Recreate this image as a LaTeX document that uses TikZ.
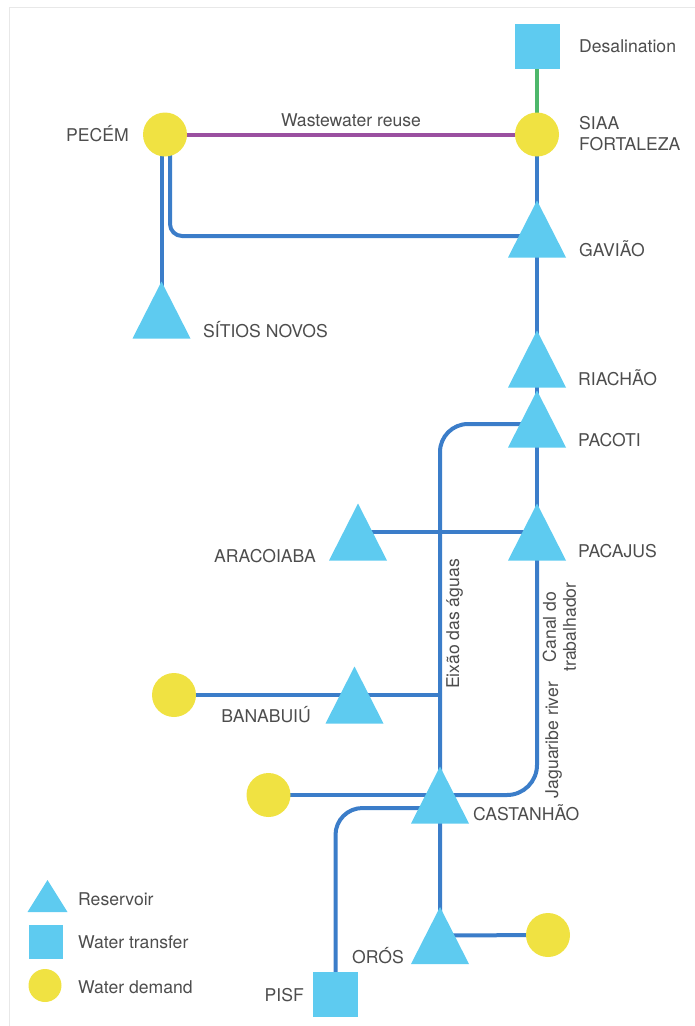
\documentclass[tikz,border=0pt]{standalone}
\usepackage{fontspec}
\setmainfont{TeX Gyre Heros}
\pgfdeclarelayer{bg}
\pgfsetlayers{bg,main}
\definecolor{pipe}{RGB}{59,125,201}
\definecolor{rescol}{RGB}{94,203,240}
\definecolor{demcol}{RGB}{240,226,66}
\definecolor{reuse}{RGB}{154,80,160}
\definecolor{desal}{RGB}{77,183,107}
\definecolor{txt}{RGB}{77,77,77}
\definecolor{framecol}{RGB}{232,232,232}
\begin{document}
\begin{tikzpicture}[x=1pt,y=-1pt,
  reservoir/.style={inner sep=0, minimum width=58pt, minimum height=57pt,
    path picture={\fill[rescol] (path picture bounding box.south west)
      -- (path picture bounding box.south east)
      -- (path picture bounding box.north) -- cycle;}},
  transfer/.style={fill=rescol, inner sep=0, minimum size=45pt},
  demand/.style={circle, fill=demcol, inner sep=0, minimum size=44pt},
  pipeline/.style={draw=pipe, line width=4pt},
  lbl/.style={text=txt, inner sep=0, font=\fontsize{17.6}{21.5}\selectfont},
]
\useasboundingbox (0,0) rectangle (695,1026);
\draw[framecol, line width=1pt] (9,1030) -- (9,7) -- (700,7);

% water transfers
\node[transfer] (desal) at (537,46) {};
\node[transfer] (pisf) at (335.5,994.5) {};

% water demands
\node[demand] (pecem) at (165,134.5) {};
\node[demand] (siaa) at (537,134.5) {};
\node[demand] (dbana) at (174,695) {};
\node[demand] (dcast) at (268.5,795) {};
\node[demand] (doros) at (548,935) {};

% reservoirs
\node[reservoir] (gaviao) at (537,229) {};
\node[reservoir] (sitios) at (161.5,310) {};
\node[reservoir] (riachao) at (537,359) {};
\node[reservoir] (pacoti) at (537,419) {};
\node[reservoir] (pacajus) at (537,532) {};
\node[reservoir] (aracoiaba) at (358,532) {};
\node[reservoir] (banabuiu) at (354.5,695) {};
\node[reservoir] (castanhao) at (440,795) {};
\node[reservoir] (oros) at (440,935.5) {};

% branch points of the pipelines
\coordinate (pecemR) at (170,134.5);
\coordinate (gaviaoW) at (530,236);
\coordinate (pacotiW) at (530,424);
\coordinate (eixaoT) at (440,695);
\coordinate (castS) at (440,808);

\begin{pgfonlayer}{bg}
  \draw[desal, line width=3.5pt] (desal.center) -- (siaa.center);
  \draw[reuse, line width=4pt] (pecem.center) -- (siaa.center);
  \draw[pipeline] (siaa.center) -- (gaviao.center) -- (riachao.center)
    -- (pacoti.center) -- (pacajus.center);
  \draw[pipeline] (sitios.center) -- (sitios.center |- pecem.center);
  \draw[pipeline, rounded corners=12pt] (pecemR) |- (gaviaoW);
  \draw[pipeline, rounded corners=28pt] (pacotiW) -| (oros.center);
  \draw[pipeline] (aracoiaba.center) -- (pacajus.center);
  \draw[pipeline] (dbana.center) -- (eixaoT);
  \draw[pipeline, rounded corners=30pt] (pacajus.center) |- (castanhao.center);
  \draw[pipeline] (dcast.center) -- (castanhao.center);
  \draw[pipeline, rounded corners=27pt] (castS) -| (pisf.center);
  \draw[pipeline] (oros.center) -- (doros.center);
\end{pgfonlayer}

% labels
\node[lbl, anchor=base west] (tdesal) at (579,52) {Desalination};
\node[lbl, anchor=north west, align=left] (tsiaa) at (579,116) {SIAA\\FORTALEZA};
\node[lbl, anchor=base east] (tpecem) at (129,141) {PECÉM};
\node[lbl, anchor=base] (treuse) at (351,126) {Wastewater reuse};
\node[lbl, anchor=base west] (tgaviao) at (579,256) {GAVIÃO};
\node[lbl, anchor=base west] (tsitios) at (203,337) {SÍTIOS NOVOS};
\node[lbl, anchor=base west] (triachao) at (578,385) {RIACHÃO};
\node[lbl, anchor=base west] (tpacoti) at (578,446) {PACOTI};
\node[lbl, anchor=base west] (tpacajus) at (578,557) {PACAJUS};
\node[lbl, anchor=base east] (taracoiaba) at (316,562) {ARACOIABA};
\node[lbl, anchor=base east] (tbanabuiu) at (311,722) {BANABUIÚ};
\node[lbl, anchor=base west] (tcastanhao) at (473,820) {CASTANHÃO};
\node[lbl, anchor=base east] (toros) at (404,963) {ORÓS};
\node[lbl, anchor=base east] (tpisf) at (304,1001) {PISF};
\node[lbl, anchor=base, rotate=90] (teixao) at (459,624) {Eixão das águas};
\node[lbl, anchor=center, rotate=90, align=center, font=\fontsize{17.6}{20}\selectfont] (tcanal) at (559.5,627) {Canal do\\trabalhador};
\node[lbl, anchor=base, rotate=90] (tjag) at (558,740) {Jaguaribe river};

% legend
\node[inner sep=0, minimum width=40pt, minimum height=32pt,
  path picture={\fill[rescol] (path picture bounding box.south west)
    -- (path picture bounding box.south east)
    -- (path picture bounding box.north) -- cycle;}] (kres) at (47.5,896) {};
\node[fill=rescol, inner sep=0, minimum size=34pt] (ktra) at (46,941.5) {};
\node[circle, fill=demcol, inner sep=0, minimum size=33pt] (kdem) at (45,985.5) {};
\node[lbl, anchor=base west] (tkres) at (78,905) {Reservoir};
\node[lbl, anchor=base west] (tktra) at (78,948) {Water transfer};
\node[lbl, anchor=base west] (tkdem) at (78,993) {Water demand};
\end{tikzpicture}
\end{document}
